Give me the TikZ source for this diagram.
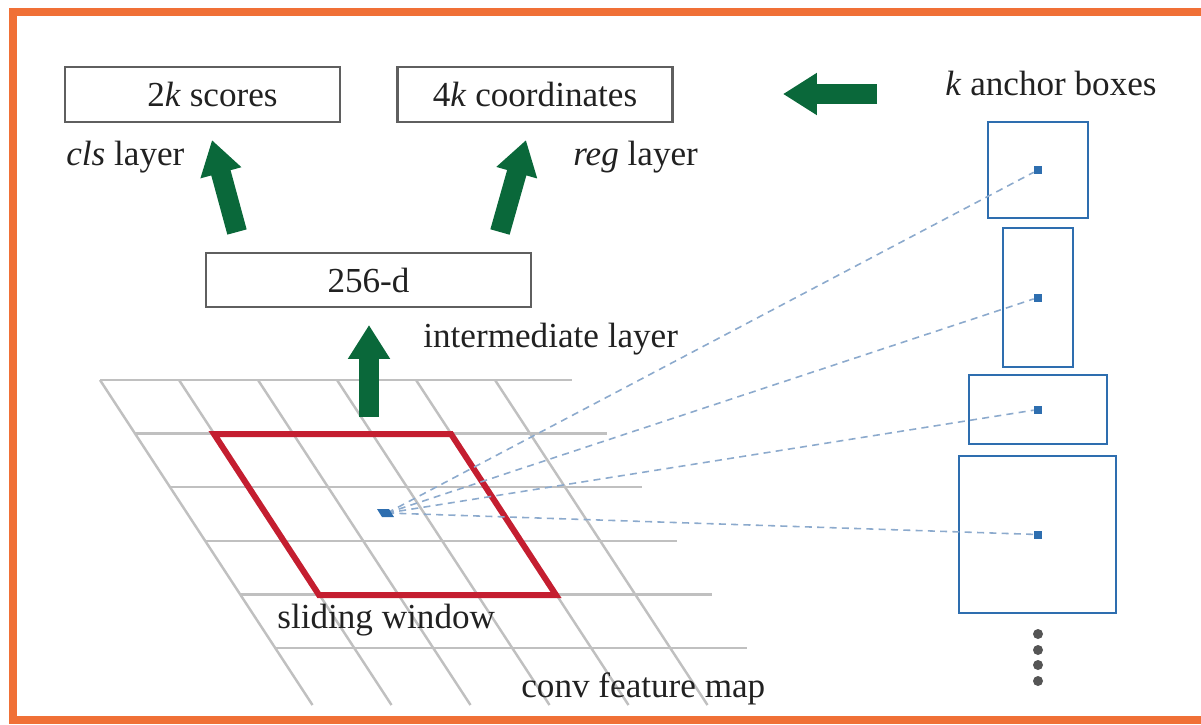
\documentclass[tikz,border=0pt]{standalone}
\usepackage{fontspec}
\setmainfont{Liberation Serif}
\usetikzlibrary{arrows.meta}
\definecolor{frameorange}{RGB}{240,112,54}
\definecolor{arrgreen}{RGB}{10,104,58}
\definecolor{winred}{RGB}{196,30,48}
\definecolor{ancblue}{RGB}{46,110,175}
\definecolor{dashblue}{RGB}{140,170,205}
\definecolor{gridgray}{RGB}{192,192,192}
\definecolor{boxgray}{RGB}{95,95,95}
\definecolor{dotgray}{RGB}{85,85,85}

\begin{document}
\begin{tikzpicture}[x=0.02cm,y=-0.02cm]
    \fontsize{20}{24}\selectfont
    \tikzstyle{layerbox}=[draw=boxgray, line width=1.4pt, minimum height=1.1cm, inner sep=0pt, text=black!87]
    \tikzstyle{lbl}=[anchor=base west, inner sep=0pt, text=black!87]
    \tikzstyle{fmline}=[gridgray, line width=1.4pt]
    \tikzstyle{fat}=[arrgreen, line width=0.4cm, -{Triangle[width=0.8cm,length=0.68cm]}]
    \tikzstyle{anc}=[draw=ancblue, line width=1.4pt, inner sep=0pt]
    \tikzstyle{cdot}=[fill=ancblue, inner sep=0pt, minimum size=0.16cm]
    \tikzstyle{ray}=[dashblue, line width=0.9pt, dash pattern=on 4pt off 3pt]
    \useasboundingbox (0,0) rectangle (1201,724);
    % frame, open on the right
    \draw[frameorange, line width=0.16cm] (1201,12) -- (13,12) -- (13,720) -- (1201,720);
    % conv feature map
    \foreach \r in {0,...,5} {\draw[fmline] ({100+35*\r},{380+53.6*\r}) -- ++(472,0);}
    \foreach \c in {0,...,5} {\draw[fmline] ({100+79*\c},380) -- ++(212.5,325);}
    \draw[winred, line width=0.12cm, line join=miter] (214,434) -- (451,434) -- (556,595) -- (319,595) -- cycle;
    \coordinate (win) at (387,513);
    % layers
    \node[layerbox, minimum width=5.5cm] (scores) at (202.5,94.5) {\hspace{0.4cm}2\textit{k} scores};
    \node[layerbox, minimum width=5.5cm] (coords) at (535,94.5) {4\textit{k} coordinates};
    \node[layerbox, minimum width=6.5cm, minimum height=1.08cm] (mid) at (368.5,280) {256-d};
    \node[lbl] (clslbl) at (66,165) {\textit{cls} layer};
    \node[lbl] (reglbl) at (573,165) {\textit{reg} layer};
    \node[lbl] (midlbl) at (423,347) {intermediate layer};
    \node[lbl] (winlbl) at (277,628) {sliding window};
    \node[lbl] (maplbl) at (521,697) {conv feature map};
    \node[lbl] (anclbl) at (945,95) {\textit{k} anchor boxes};
    % green arrows
    \coordinate (clsfrom) at (237,232);
    \coordinate (clsto) at (212,140);
    \coordinate (regfrom) at (500,232);
    \coordinate (regto) at (526,140);
    \coordinate (midfrom) at (369,417);
    \coordinate (midto) at (369,325);
    \coordinate (ancfrom) at (877,94);
    \coordinate (ancto) at (783,94);
    \draw[fat] (clsfrom) -- (clsto);
    \draw[fat] (regfrom) -- (regto);
    \draw[fat] (midfrom) -- (midto);
    \draw[fat] (ancfrom) -- (ancto);
    % anchor boxes
    \node[anc, minimum width=2cm, minimum height=1.92cm] (a1) at (1038,170) {};
    \node[anc, minimum width=1.4cm, minimum height=2.78cm] (a2) at (1038,297.5) {};
    \node[anc, minimum width=2.76cm, minimum height=1.38cm] (a3) at (1038,409.5) {};
    \node[anc, minimum width=3.14cm, minimum height=3.14cm] (a4) at (1037.5,534.5) {};
    \foreach \i in {1,...,4} {
      \node[cdot] (d\i) at (a\i) {};
      \draw[ray] (win) -- (d\i);
    }
    \fill[ancblue] (win) ++(-10,-4) -- ++(12,0) -- ++(5,8) -- ++(-12,0) -- cycle;
    \foreach \y in {634,650,665,681} {\fill[dotgray] (1038,\y) circle (0.1cm);}
  \end{tikzpicture}
\end{document}
